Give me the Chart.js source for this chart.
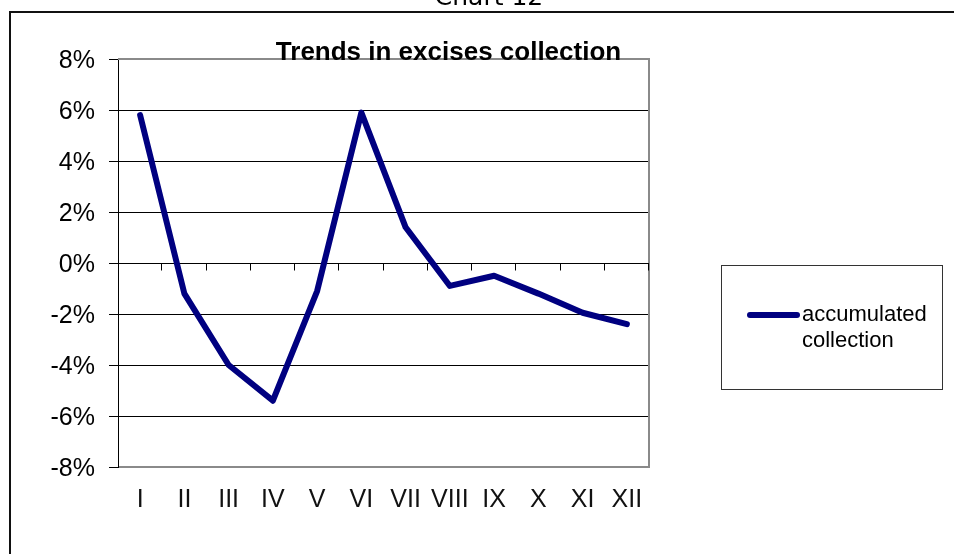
<!DOCTYPE html>
<html>
<head>
<meta charset="utf-8">
<script src="https://cdn.jsdelivr.net/npm/chart.js@4.4.0/dist/chart.umd.min.js"></script>
<style>
  html, body { margin: 0; padding: 0; background: #fff; }
  #wrap { position: relative; width: 954px; height: 554px; }
</style>
</head>
<body>
<div id="wrap"><canvas id="c" width="954" height="554"></canvas></div>
<script>
// Months of the year (Roman numerals) and the accumulated excise collection trend, in %
const months = ['I', 'II', 'III', 'IV', 'V', 'VI', 'VII', 'VIII', 'IX', 'X', 'XI', 'XII'];
const accumulated = [5.8, -1.2, -4.0, -5.4, -1.1, 5.9, 1.4, -0.9, -0.5, -1.2, -1.95, -2.4];
const yMin = -8;
const yMax = 8;
const yStep = 2;
const seriesName = 'accumulated collection';
const chartTitle = 'Trends in excises collection';
const caption = 'Chart 12';

const LINE_COLOR = '#000080';
const SANS = '"Liberation Sans", Arial, sans-serif';

const decor = {
  id: 'decor',
  beforeDatasetsDraw(chart) {
    const { ctx, chartArea: a, scales: { x, y } } = chart;
    ctx.save();
    // grey plot-area frame (top, right, bottom)
    ctx.strokeStyle = '#8a8a8a';
    ctx.lineWidth = 2;
    ctx.beginPath();
    ctx.moveTo(a.left, a.top);
    ctx.lineTo(a.right, a.top);
    ctx.lineTo(a.right, a.bottom);
    ctx.lineTo(a.left + 1, a.bottom);
    ctx.stroke();
    // category axis crossing at 0% with tick marks between months
    const y0 = Math.round(y.getPixelForValue(0)) + 0.5;
    const half = (x.getPixelForValue(1) - x.getPixelForValue(0)) / 2;
    ctx.strokeStyle = '#000';
    ctx.lineWidth = 1;
    ctx.beginPath();
    ctx.moveTo(a.left, y0);
    ctx.lineTo(a.right, y0);
    for (let i = 0; i < months.length; i++) {
      const px = Math.round(x.getPixelForValue(i) + half) - 0.5;
      ctx.moveTo(px, y0);
      ctx.lineTo(px, y0 + 7);
    }
    ctx.stroke();
    ctx.restore();
  },
  afterDraw(chart) {
    const { ctx, chartArea: a } = chart;
    const ds = chart.data.datasets[0];
    ctx.save();

    // chart title sitting on the top edge of the plot area
    ctx.fillStyle = '#000';
    ctx.font = 'bold 26px ' + SANS;
    ctx.textAlign = 'center';
    ctx.textBaseline = 'alphabetic';
    ctx.fillText(chartTitle, a.left + 330.5, a.top + 1);

    // legend box
    ctx.strokeStyle = '#333';
    ctx.lineWidth = 1;
    ctx.strokeRect(721.5, 265.5, 221, 124);
    ctx.strokeStyle = ds.borderColor;
    ctx.lineWidth = 6;
    ctx.lineCap = 'round';
    ctx.beginPath();
    ctx.moveTo(750, 315);
    ctx.lineTo(797, 315);
    ctx.stroke();
    ctx.fillStyle = '#000';
    ctx.font = '22px ' + SANS;
    ctx.textAlign = 'left';
    ctx.textBaseline = 'middle';
    const words = ds.label.split(' ');
    words.forEach((w, i) => ctx.fillText(w, 802, 315 + i * 26));

    // caption above the frame
    ctx.font = '25px "DejaVu Sans", Verdana, sans-serif';
    ctx.textAlign = 'center';
    ctx.textBaseline = 'alphabetic';
    ctx.fillText(caption, 489, 5);

    // outer frame
    ctx.strokeStyle = '#111';
    ctx.lineWidth = 2;
    ctx.lineCap = 'butt';
    ctx.beginPath();
    ctx.moveTo(10, 554);
    ctx.lineTo(10, 12);
    ctx.lineTo(954, 12);
    ctx.stroke();

    ctx.restore();
  }
};

new Chart(document.getElementById('c'), {
  type: 'line',
  data: {
    labels: months,
    datasets: [{
      label: seriesName,
      data: accumulated,
      borderColor: LINE_COLOR,
      backgroundColor: LINE_COLOR,
      borderWidth: 6,
      pointRadius: 0,
      pointHoverRadius: 0,
      tension: 0,
      borderJoinStyle: 'round',
      borderCapStyle: 'round',
      fill: false
    }]
  },
  options: {
    responsive: false,
    animation: false,
    events: [],
    layout: { padding: { top: 59, right: 305, left: 0, bottom: 0 } },
    plugins: {
      legend: { display: false },
      title: { display: false },
      tooltip: { enabled: false }
    },
    scales: {
      x: {
        type: 'category',
        offset: true,
        grid: { display: false, drawTicks: false },
        border: { display: false },
        ticks: {
          color: '#111',
          font: { family: SANS, size: 25 },
          padding: 18,
          maxRotation: 0,
          autoSkip: false
        },
        afterFit(scale) { scale.height = 87; }
      },
      y: {
        min: yMin,
        max: yMax,
        grid: {
          color: (c) => (c.tick && (c.tick.value === yMin || c.tick.value === yMax)) ? 'rgba(0,0,0,0)' : '#000',
          tickColor: '#000',
          tickLength: 9,
          lineWidth: 1
        },
        border: { color: '#000', width: 1 },
        ticks: {
          stepSize: yStep,
          color: '#000',
          font: { family: SANS, size: 25 },
          padding: 14,
          labelOffset: 2,
          callback: (v) => v + '%'
        },
        afterFit(scale) { scale.width = 118; }
      }
    }
  },
  plugins: [decor]
});
</script>
</body>
</html>
